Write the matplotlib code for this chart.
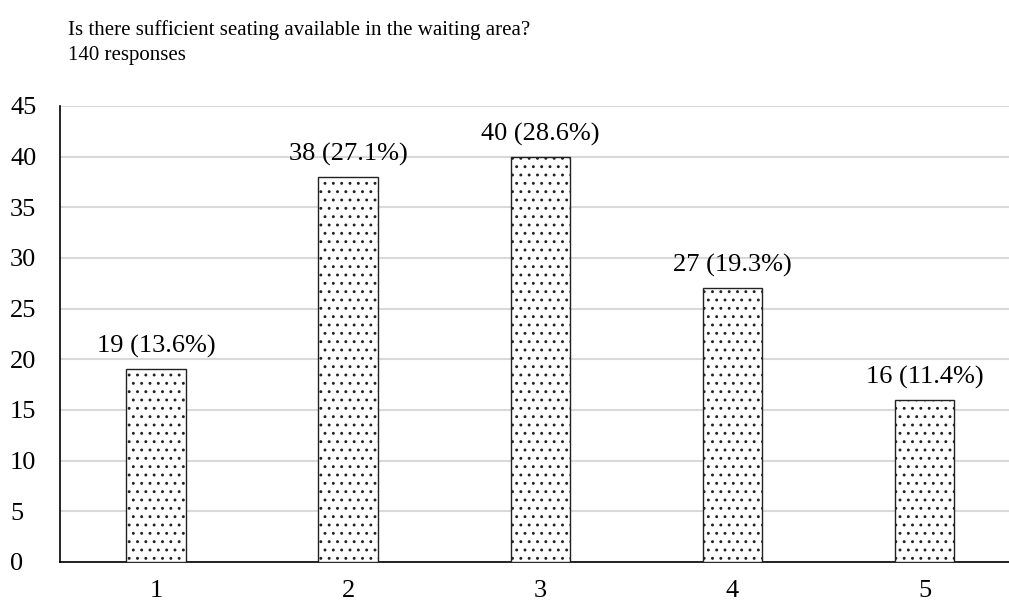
import matplotlib.pyplot as plt

plt.rcParams['font.family'] = ['Liberation Serif', 'DejaVu Serif']
plt.rcParams['hatch.linewidth'] = 0.9

categories = ["1", "2", "3", "4", "5"]
counts = [19, 38, 40, 27, 16]
percents = [13.6, 27.1, 28.6, 19.3, 11.4]

fig = plt.figure(figsize=(10.09, 6.05), dpi=100)
ax = fig.add_axes([0.0595, 0.0711, 0.9405, 0.7537])

x = list(range(1, len(categories) + 1))
bars = ax.bar(x, counts, width=0.31, color="white", edgecolor="#222222",
              linewidth=1.0, hatch="..", zorder=3)

for xi, c, p in zip(x, counts, percents):
    ax.text(xi, c + 1.1, f"{c} ({p}%)", ha="center", va="bottom", fontsize=19)

ax.set_xlim(0.5, 5.44)
ax.set_ylim(0, 45)
ax.set_yticks(range(0, 46, 5))
ax.set_xticks(x)
ax.set_xticklabels(categories)
ax.yaxis.grid(True, color="#d9d9d9", linewidth=1.5, zorder=0)
ax.set_axisbelow(True)
for side in ["top", "right"]:
    ax.spines[side].set_visible(False)
ax.spines["left"].set_linewidth(1.2)
ax.spines["bottom"].set_linewidth(1.2)
ax.tick_params(axis="both", length=0, labelsize=19)
ax.tick_params(axis="x", pad=13)
ax.tick_params(axis="y", pad=36)
for lbl in ax.get_yticklabels():
    lbl.set_horizontalalignment("left")

fig.text(0.0674, 0.951, "Is there sufficient seating available in the waiting area?",
         fontsize=15, va="center")
fig.text(0.0674, 0.909, "140 responses", fontsize=15, va="center")

fig.savefig("out.png", dpi=100)
